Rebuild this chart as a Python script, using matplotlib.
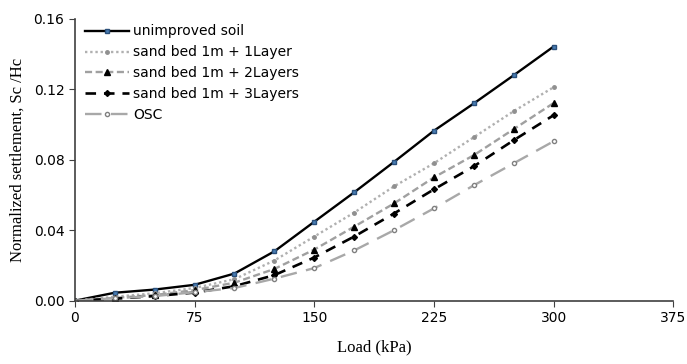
import numpy as np
import matplotlib.pyplot as plt

# load steps (kPa) and normalized settlement Sc/Hc
load = [0, 25, 50, 75, 100, 125, 150, 175, 200, 225, 250, 275, 300]
unimproved = [0, 0.0045, 0.0063, 0.009, 0.0154, 0.028, 0.0448, 0.0615, 0.0788, 0.0965, 0.112, 0.128, 0.1443]
layer1 = [0, 0.0022, 0.0042, 0.0072, 0.0122, 0.0228, 0.0364, 0.050, 0.0649, 0.078, 0.0928, 0.1076, 0.1212]
layer2 = [0, 0.0016, 0.0032, 0.006, 0.0102, 0.018, 0.029, 0.042, 0.0552, 0.070, 0.0826, 0.0974, 0.1122]
layer3 = [0, 0.0011, 0.0026, 0.0046, 0.0082, 0.0145, 0.0245, 0.0364, 0.0495, 0.0632, 0.0763, 0.0911, 0.1053]
osc = [0, 0.0014, 0.0026, 0.0048, 0.0072, 0.0125, 0.0185, 0.0285, 0.040, 0.0524, 0.0655, 0.078, 0.0905]

xticks = [0, 75, 150, 225, 300, 375]
yticks = [0.00, 0.04, 0.08, 0.12, 0.16]

fig = plt.figure(figsize=(6.87, 3.64), dpi=100)
ax = fig.add_axes([0.109, 0.174, 0.871, 0.774])

ax.plot(load, unimproved, color='black', lw=1.7, marker='s', ms=3.5,
        mfc='#4a7fb5', mec='#2a4f7a', label='unimproved soil')
ax.plot(load, layer1, color='#b0b0b0', lw=1.7, ls=(0, (1, 1.2)), marker='o', ms=2.5,
        mfc='#909090', mec='#909090', label='sand bed 1m + 1Layer')
ax.plot(load, layer2, color='#a0a0a0', lw=1.7, ls=(0, (3, 1.5)), marker='^', ms=4,
        mfc='black', mec='black', label='sand bed 1m + 2Layers')
ax.plot(load, layer3, color='black', lw=1.9, ls=(0, (4, 3)), marker='D', ms=3,
        mfc='black', mec='black', label='sand bed 1m + 3Layers')
ax.plot(load, osc, color='#a8a8a8', lw=1.7, ls=(0, (7, 4)), marker='o', ms=3,
        mfc='white', mec='#808080', label='OSC')

ax.set_xlim(0, 375)
ax.set_ylim(0, 0.16)
ax.set_xticks(xticks)
ax.set_yticks(yticks)
ax.set_yticklabels(['%.2f' % v for v in yticks])
ax.spines['top'].set_visible(False)
ax.spines['right'].set_visible(False)
for s in ['left', 'bottom']:
    ax.spines[s].set_color('#404040')
    ax.spines[s].set_linewidth(1.2)
ax.tick_params(direction='out', length=4, color='#404040', labelsize=10)

ax.set_xlabel('Load (kPa)', family='Liberation Serif', fontsize=12, labelpad=10)
ax.set_ylabel('Normalized settlement, Sc /Hc', family='Liberation Serif', fontsize=12, labelpad=6)

ax.legend(loc='upper left', bbox_to_anchor=(0.0, 1.015), frameon=False, fontsize=10,
          handlelength=3.2, handletextpad=0.3, labelspacing=0.5, borderaxespad=0.3)

fig.savefig('out.png', dpi=100)
